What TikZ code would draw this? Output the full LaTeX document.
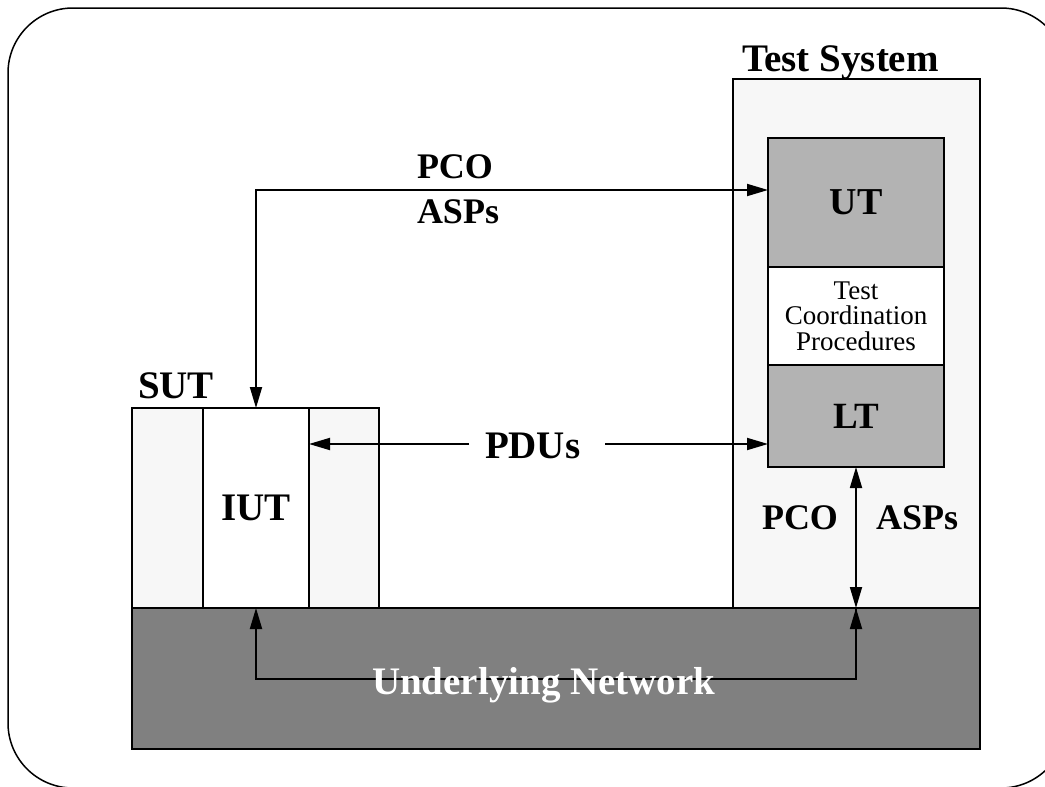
\documentclass[tikz,border=0pt]{standalone}
\usepackage{fontspec}
\setmainfont{Liberation Serif}
\usetikzlibrary{arrows.meta,calc}
\definecolor{ltgray}{HTML}{F7F7F7}
\definecolor{midgray}{HTML}{B3B3B3}
\definecolor{dkgray}{HTML}{808080}
\begin{document}
\begin{tikzpicture}[x=1pt,y=-1pt,
  box/.style={draw=black,line width=2pt,inner sep=0pt,outer sep=0pt,rectangle},
  lab/.style={inner sep=0pt,outer sep=0pt,anchor=base west},
  big/.style={font=\fontsize{39}{42}\selectfont\bfseries},
  mid/.style={font=\fontsize{36}{40}\selectfont\bfseries},
  tipA/.tip={Triangle[length=21pt,width=12pt]},
  conn/.style={line width=1.8pt,tipA-tipA},
  single/.style={line width=1.8pt,-tipA},
]
\useasboundingbox (0,0) rectangle (1045,787);
% outer frame
\draw[line width=1.5pt,rounded corners=65pt] (8,8) rectangle (1066,788);

% boxes
\node[box,fill=ltgray,minimum width=247pt,minimum height=529pt] (tsys) at (856.5,343.5) {};
\node[box,fill=dkgray,minimum width=848pt,minimum height=141pt] (net) at (556,678.5) {};
\node[box,fill=ltgray,minimum width=247pt,minimum height=200pt] (sut) at (255.5,508) {};
\node[box,fill=white,minimum width=106pt,minimum height=200pt,big] (iut) at (256,508) {IUT};
\node[box,fill=midgray,minimum width=176pt,minimum height=129pt,font=\fontsize{38}{40}\selectfont\bfseries] (ut) at (856,202.5) {UT};
\node[box,fill=white,minimum width=176pt,minimum height=98pt,align=center,font=\fontsize{27}{25.5}\selectfont] (tcp) at (856,316) {Test\\Coordination\\Procedures};
\node[box,fill=midgray,minimum width=176pt,minimum height=102pt,font=\fontsize{37}{40}\selectfont\bfseries] (lt) at (856,416) {LT};

% labels
\node[lab,big] (tslab) at (742,71) {Test System};
\node[lab,big] (sutlab) at (138,398) {SUT};
\node[lab,mid] (pco1) at (417,178) {PCO};
\node[lab,mid] (asp1) at (417,223) {ASPs};
\node[lab,mid] (pco2) at (762,529) {PCO};
\node[lab,mid] (asp2) at (876,529) {ASPs};
\node[lab,big] (pdus) at (485,458) {PDUs};

% connectors
\coordinate (utin) at ($(ut.west)+(0,-12.5)$);
\draw[conn] (iut.north) |- (utin);

\coordinate (pl) at (469,444);
\coordinate (pr) at (605,444);
\draw[single] (pl) -- (pl -| iut.east);
\draw[single] (pr) -- (pr -| lt.west);

\draw[conn] (lt.south) -- (lt.south |- net.north);

\coordinate (loop) at (256,679);
\draw[line width=1.8pt,tipA-] (iut.south) -- (loop) -| (lt.south |- net.north);
\draw[line width=1.8pt,-tipA] (loop -| lt.south) -- (lt.south |- net.north);

\node[lab,big,text=white] (netlab) at (372,694) {Underlying Network};
\end{tikzpicture}
\end{document}
